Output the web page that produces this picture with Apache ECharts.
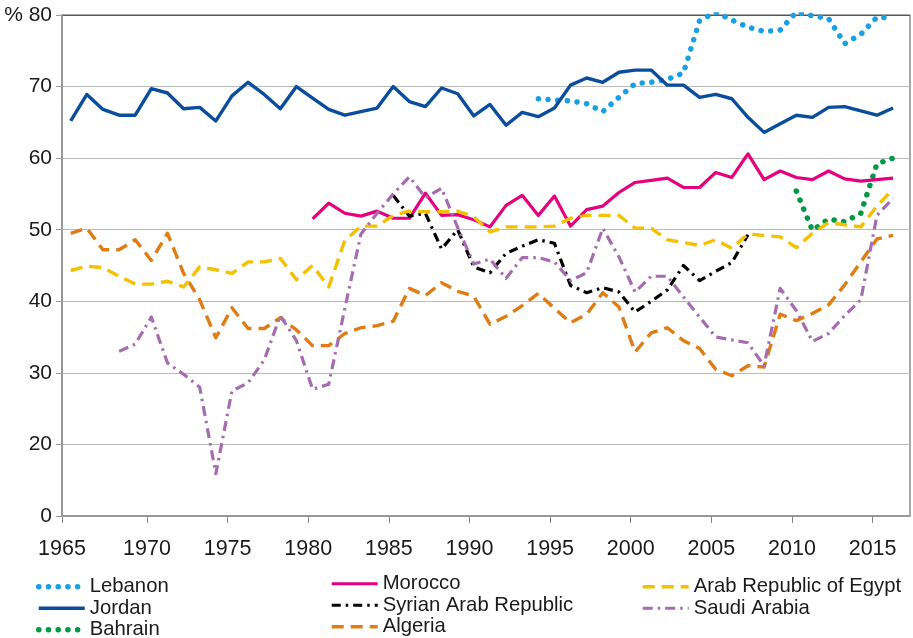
<!DOCTYPE html>
<html>
<head>
<meta charset="utf-8">
<script src="https://cdn.jsdelivr.net/npm/echarts@6/dist/echarts.min.js"></script>
<style>
  html, body { margin: 0; padding: 0; background: #fff; }
  #chart { width: 913px; height: 638px; }
</style>
</head>
<body>
<div id="chart"></div>
<script>
// ---- Data ----
const tickYears = [1965, 1970, 1975, 1980, 1985, 1990, 1995, 2000, 2005, 2010, 2015];
const yTicks = [0, 20, 30, 40, 50, 60, 70, 80];

const lebanonStart = 1994;
const lebanon = [68.3, 68.1, 68.0, 67.6, 66.5, 68.5, 70.4, 70.6, 71.0, 71.9, 79.2, 80.4, 79.3, 78.3, 77.7, 77.9, 80.4, 79.9, 79.5, 76.0, 77.3, 79.7, 79.6];

const jordanStart = 1965;
const jordan = [65.2, 68.9, 66.8, 66.0, 66.0, 69.7, 69.1, 66.9, 67.1, 65.2,
  68.7, 70.6, 68.9, 66.9, 70.0, 68.4, 66.8, 66.0, 66.5, 67.0,
  70.0, 67.9, 67.2, 69.8, 69.0, 65.9, 67.5, 64.6, 66.4, 65.8,
  67.0, 70.2, 71.2, 70.6, 72.0, 72.3, 72.3, 70.2, 70.2, 68.5,
  68.9, 68.3, 65.7, 63.6, 64.8, 66.0, 65.7, 67.1, 67.2, 66.6,
  66.0, 67.0];

const bahrainStart = 2010;
const bahrain = [55.4, 49.9, 51.5, 51.1, 52.3, 59.2, 60.0];

const moroccoStart = 1980;
const morocco = [51.5, 53.7, 52.3, 51.9, 52.6, 51.6, 51.6, 55.1, 52.0, 52.1,
  51.4, 50.4, 53.4, 54.8, 52.0, 54.7, 50.5, 52.8, 53.3, 55.2,
  56.6, 56.9, 57.2, 55.9, 55.9, 58.0, 57.3, 60.6, 57.0, 58.2,
  57.3, 57.0, 58.2, 57.1, 56.8, 57.0, 57.2];

const syriaStart = 1985;
const syria = [54.8, 51.9, 52.3, 47.3, 50.0, 44.8, 44.0, 46.7, 47.7, 48.6,
  48.1, 42.2, 41.2, 41.9, 41.3, 38.5, 40.0, 41.6, 45.0, 42.9,
  44.2, 45.4, 49.3];

const algeriaStart = 1965;
const algeria = [49.5, 50.2, 47.2, 47.2, 48.6, 45.7, 49.5, 43.9, 40.2, 34.9,
  39.1, 36.2, 36.2, 37.7, 36.0, 33.8, 33.8, 35.5, 36.3, 36.6,
  37.2, 41.8, 40.8, 42.6, 41.4, 40.7, 36.8, 37.9, 39.4, 41.1,
  39.0, 37.0, 38.2, 41.2, 39.2, 32.9, 35.6, 36.3, 34.5, 33.4,
  30.5, 29.6, 31.0, 30.8, 38.2, 37.3, 38.3, 39.5, 42.3, 45.5,
  48.7, 49.2];

const egyptStart = 1965;
const egypt = [44.3, 44.9, 44.7, 43.5, 42.4, 42.4, 42.8, 42.0, 44.8, 44.4,
  43.9, 45.5, 45.5, 46.0, 43.0, 45.0, 42.0, 48.5, 50.5, 50.5,
  52.0, 52.6, 52.5, 52.5, 52.6, 51.8, 49.7, 50.4, 50.4, 50.4,
  50.5, 51.6, 52.0, 52.0, 52.0, 50.2, 50.2, 48.6, 48.2, 47.8,
  48.6, 47.4, 49.4, 49.2, 49.0, 47.5, 49.5, 51.0, 50.7, 50.4,
  53.3, 55.7];

const saudiStart = 1968;
const saudi = [33.0, 34.0, 37.8, 31.4, 29.8, 28.0, 15.9, 27.5, 28.6, 31.8,
  38.0, 34.5, 27.7, 28.4, 39.0, 49.4, 52.3, 55.0, 57.4, 54.5,
  55.8, 50.3, 45.2, 45.9, 43.2, 46.1, 46.1, 45.5, 42.9, 44.0,
  50.2, 46.2, 41.3, 43.5, 43.5, 40.6, 37.8, 35.0, 34.6, 34.2,
  31.0, 41.8, 38.7, 34.4, 35.5, 38.0, 40.2, 52.0, 54.4];

// ---- Chart ----
const FONT = "'Liberation Sans', Arial, Helvetica, sans-serif";
const X_MIN = 1964.46, X_MAX = 2017.05;
const tickVals = tickYears.map((y, i) => i === 0 ? X_MIN : y - 0.27);

// The reference y axis is broken below 20: the bottom edge is labelled 0.
const Y_BOTTOM = 10;
function yLabel(v) {
  if (Math.abs(v - Y_BOTTOM) < 1e-6) return String(yTicks[0]);
  if (v === 80) return '% 80';
  return String(v);
}

function pairs(start, arr) { return arr.map((v, i) => [start + i, v]); }

function line(name, start, arr, color, width, dash, cap) {
  return {
    name: name, type: 'line', data: pairs(start, arr),
    symbol: 'none', showSymbol: false, smooth: false, animation: false,
    lineStyle: { color: color, width: width, type: dash, cap: cap || 'butt', join: 'round' },
    itemStyle: { color: color },
    emphasis: { disabled: true }
  };
}

const legendText = { fontFamily: FONT, fontSize: 20.3, color: '#1a1a1a', lineHeight: 21.5 };
function legend(names, left, top) {
  return {
    data: names, orient: 'vertical', left: left, top: top, height: 70, width: 300,
    itemWidth: 46, itemHeight: 14, itemGap: 0, padding: 0,
    textStyle: legendText, selectedMode: false,
    itemStyle: { opacity: 0 },
    lineStyle: { width: 'inherit', type: 'inherit', cap: 'inherit', opacity: 1 }
  };
}

const chart = echarts.init(document.getElementById('chart'), null, { renderer: 'canvas' });
chart.setOption({
  backgroundColor: '#ffffff',
  animation: false,
  grid: { left: 62, right: 3, top: 15, bottom: 122, show: true, borderColor: '#555', borderWidth: 1, backgroundColor: 'transparent' },
  legend: [
    legend(['Lebanon', 'Jordan', 'Bahrain'], 36, 576),
    legend(['Morocco', 'Syrian Arab Republic', 'Algeria'], 330, 573),
    legend(['Arab Republic of Egypt', 'Saudi Arabia'], 641, 576)
  ],
  xAxis: {
    type: 'value', min: X_MIN, max: X_MAX,
    axisLine: { show: true, lineStyle: { color: '#999', width: 2 } },
    axisTick: { show: true, length: 7, inside: false, lineStyle: { color: '#888', width: 1 }, customValues: tickVals },
    axisLabel: {
      customValues: tickVals, margin: 22, fontFamily: FONT, fontSize: 21.5, color: '#1a1a1a',
      showMinLabel: true, showMaxLabel: true,
      formatter: function (v) {
        let best = 0, d = Infinity;
        tickVals.forEach((t, i) => { if (Math.abs(t - v) < d) { d = Math.abs(t - v); best = i; } });
        return String(tickYears[best]);
      }
    },
    splitLine: { show: false }
  },
  yAxis: {
    type: 'value', min: Y_BOTTOM, max: 80, interval: 10,
    axisLine: { show: true, lineStyle: { color: '#999', width: 2 } },
    axisTick: { show: true, length: 6, lineStyle: { color: '#999', width: 1 } },
    axisLabel: { formatter: yLabel, margin: 10, fontFamily: FONT, fontSize: 21, color: '#1a1a1a' },
    splitLine: { show: true, lineStyle: { color: ['#999', '#bbb', '#bbb', '#bbb', '#bbb', '#bbb', '#bbb', '#555'], width: 1 } }
  },
  series: [
    line('Lebanon', lebanonStart, lebanon, '#17a0e4', 5.5, [0.1, 9.6], 'round'),
    line('Jordan', jordanStart, jordan, '#0a4d9c', 3.4, 'solid'),
    line('Bahrain', bahrainStart, bahrain, '#009a44', 5.5, [0.1, 9.6], 'round'),
    line('Morocco', moroccoStart, morocco, '#e5007d', 3.2, 'solid'),
    line('Syrian Arab Republic', syriaStart, syria, '#000000', 3.2, [9, 5, 2.5, 5]),
    line('Algeria', algeriaStart, algeria, '#df7c14', 3.4, [12, 7]),
    line('Arab Republic of Egypt', egyptStart, egypt, '#f5c000', 3.4, [12, 7]),
    line('Saudi Arabia', saudiStart, saudi, '#a66cb0', 3.2, [10, 5, 2.5, 5])
  ]
});
</script>
</body>
</html>
